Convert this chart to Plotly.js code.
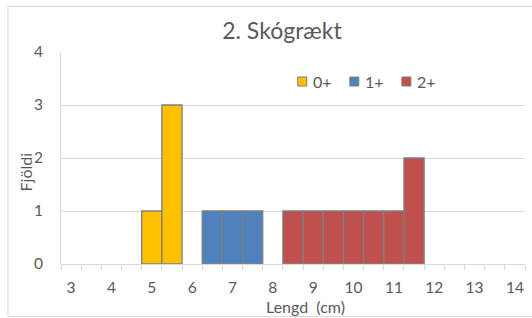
<!DOCTYPE html>
<html>
<head>
<meta charset="utf-8">
<script src="https://cdn.plot.ly/plotly-3.0.1.min.js"></script>
<style>html,body{margin:0;padding:0;background:#fff;}#chart{width:532px;height:318px;}</style>
</head>
<body>
<div id="chart"></div>
<script>
// Length bins (cm) and counts per age group
var seriesNames = ["0+", "1+", "2+"];
var bins0 = [5, 5.5];
var counts0 = [1, 3];
var bins1 = [6.5, 7, 7.5];
var counts1 = [1, 1, 1];
var bins2 = [8.5, 9, 9.5, 10, 10.5, 11, 11.5];
var counts2 = [1, 1, 1, 1, 1, 1, 2];
var xTickVals = [3, 4, 5, 6, 7, 8, 9, 10, 11, 12, 13, 14];
var xTickText = ["3", "4", "5", "6", "7", "8", "9", "10", "11", "12", "13", "14"];
var yTickVals = [0, 1, 2, 3, 4];

var colors = ["#FFC000", "#4F81BD", "#C0504D"];
var font = "Lato, 'Open Sans', sans-serif";
var txt = "#595959";
var grid = "#d9d9d9";
var W = 463.5, H = 212, L = 61.5, B = 264; // plot area in px (for paper placement of decorations)
function px(x) { return (x - L) / W; }
function py(y) { return (B - y) / H; }

function barTrace(name, x, y, color) {
  return {
    type: "bar", name: name, x: x, y: y, width: 0.5,
    marker: {color: color, line: {color: "#7f7f7f", width: 1.3}},
    hoverinfo: "x+y+name", showlegend: false
  };
}

var data = [
  barTrace(seriesNames[0], bins0, counts0, colors[0]),
  barTrace(seriesNames[1], bins1, counts1, colors[1]),
  barTrace(seriesNames[2], bins2, counts2, colors[2])
];

// custom legend (Excel-like: small square, text right next to it)
var legendX = [298, 350, 402];
var legendShapes = [], legendAnn = [];
for (var i = 0; i < seriesNames.length; i++) {
  legendShapes.push({type: "rect", xref: "paper", yref: "paper",
    x0: px(legendX[i]), x1: px(legendX[i] + 9), y0: py(86), y1: py(77),
    fillcolor: colors[i], line: {color: "#7f7f7f", width: 1}});
  legendAnn.push({text: seriesNames[i], xref: "paper", yref: "paper",
    x: px(legendX[i] + 13), y: py(81.5), xanchor: "left", yanchor: "middle",
    showarrow: false, font: {family: font, size: 16, color: txt}});
}

var layout = {
  width: 532, height: 318,
  margin: {l: 61, r: 7, t: 52, b: 54, pad: 0},
  paper_bgcolor: "#fff", plot_bgcolor: "#fff",
  font: {family: font, color: txt, size: 16},
  barmode: "overlay",
  title: {text: "2. Skógrækt", font: {family: font, size: 23, color: txt},
          x: 282/532, xanchor: "center", xref: "container", y: 1 - 31/318, yanchor: "middle", yref: "container"},
  showlegend: false,
  xaxis: {
    range: [2.75, 14.25], tickmode: "array", tickvals: xTickVals, ticktext: xTickText,
    ticks: "", showgrid: false, zeroline: false, showline: true, linecolor: grid, linewidth: 1,
    tickfont: {family: font, size: 15.5, color: txt}, ticklabelstandoff: 9,
    minor: {tickmode: "linear", tick0: 2.75, dtick: 0.5, ticks: "outside", ticklen: 5, tickcolor: grid, tickwidth: 1, showgrid: false},
    fixedrange: true
  },
  yaxis: {
    range: [0, 4], tickmode: "array", tickvals: yTickVals,
    ticks: "", showgrid: true, gridcolor: grid, gridwidth: 1, zeroline: false,
    showline: true, linecolor: grid, linewidth: 1,
    tickfont: {family: font, size: 15.5, color: txt}, ticklabelstandoff: 14,
    fixedrange: true
  },
  annotations: [
    {text: "Fjöldi", xref: "paper", yref: "paper", x: px(26), y: py(172),
     xanchor: "center", yanchor: "middle", textangle: -90, showarrow: false,
     font: {family: font, size: 16, color: txt}},
    {text: "Lengd  (cm)", xref: "paper", yref: "paper", x: px(306), y: py(306),
     xanchor: "center", yanchor: "middle", showarrow: false,
     font: {family: font, size: 16, color: txt}}
  ].concat(legendAnn),
  shapes: [
    {type: "rect", xref: "paper", yref: "paper", layer: "below",
     x0: px(8.5), x1: 1.05, y0: py(316.5), y1: py(6.5),
     line: {color: grid, width: 1}, fillcolor: "rgba(0,0,0,0)"}
  ].concat(legendShapes)
};

Plotly.newPlot("chart", data, layout, {displayModeBar: false, staticPlot: true});
</script>
</body>
</html>
